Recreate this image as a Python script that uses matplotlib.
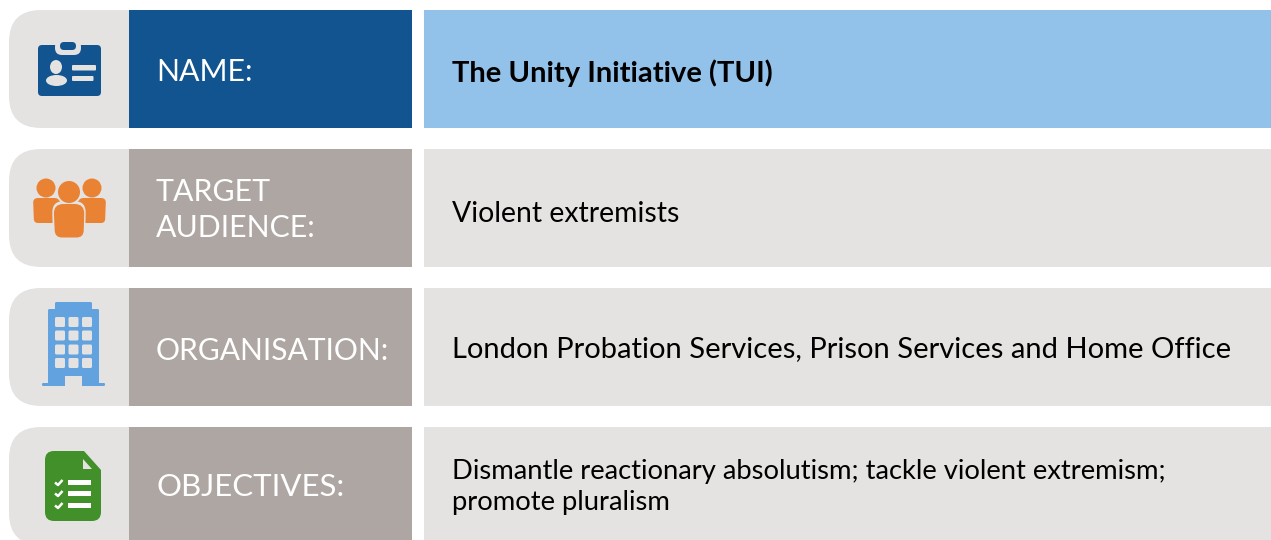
import matplotlib
matplotlib.use('Agg')
import matplotlib.pyplot as plt
from matplotlib.patches import Rectangle, Circle, Ellipse, FancyBboxPatch, PathPatch, Polygon
from matplotlib.path import Path

labels = ['NAME:', 'TARGET\nAUDIENCE:', 'ORGANISATION:', 'OBJECTIVES:']
values = ['The Unity Initiative (TUI)', 'Violent extremists',
          'London Probation Services, Prison Services and Home Office',
          'Dismantle reactionary absolutism; tackle violent extremism;\npromote pluralism']
row_tops = [10, 149, 288, 427]
label_y = [72, 210, 351, 487]
value_y = [73, 214, 349, 487]
label_size = [21.8, 21.8, 21.6, 22.4]
value_size = [21, 20.4, 21, 19.7]
label_colors = ['#125490', '#aea6a2', '#aea6a2', '#aea6a2']
value_colors = ['#92c1e9', '#e4e3e1', '#e4e3e1', '#e4e3e1']
PALE = '#e4e3e1'
ROW_H = 118

plt.rcParams['font.family'] = ['Lato', 'DejaVu Sans']

def rrect(ax, x0, y0, x1, y1, r, color, z=3):
    ax.add_patch(FancyBboxPatch((x0+r, y0+r), x1-x0-2*r, y1-y0-2*r,
                                boxstyle=f'round,pad={r},rounding_size={r}',
                                fc=color, ec='none', zorder=z))

def round_poly(ax, pts, color, z=3):
    # pts are (x, y, radius), corners get a quadratic curve
    verts, codes = [], []
    n = len(pts)
    for i in range(n):
        x, y, r = pts[i]
        px, py, _ = pts[i-1]
        nx, ny, _ = pts[(i+1) % n]
        d1 = ((px-x)**2 + (py-y)**2)**0.5
        d2 = ((nx-x)**2 + (ny-y)**2)**0.5
        a = (x + (px-x)*r/d1, y + (py-y)*r/d1)
        b = (x + (nx-x)*r/d2, y + (ny-y)*r/d2)
        verts += [a, (x, y), b]
        codes += [Path.MOVETO if i == 0 else Path.LINETO, Path.CURVE3, Path.CURVE3]
    verts.append(verts[0])
    codes.append(Path.CLOSEPOLY)
    ax.add_patch(PathPatch(Path(verts, codes), fc=color, ec='none', zorder=z))

def left_tab(ax, top):
    # pale box, only the left corners are round
    x0, x1, r = 9, 130, 32
    bot = top + ROW_H
    verts = [(x1, top), (x0+r, top), (x0, top), (x0, top+r), (x0, bot-r), (x0, bot), (x0+r, bot), (x1, bot), (x1, top)]
    codes = [Path.MOVETO, Path.LINETO, Path.CURVE3, Path.CURVE3, Path.LINETO, Path.CURVE3, Path.CURVE3, Path.LINETO, Path.CLOSEPOLY]
    ax.add_patch(PathPatch(Path(verts, codes), fc=PALE, ec='none', zorder=1))

def icon_badge(ax):
    c = '#125490'
    rrect(ax, 38, 45, 101, 96, 4, c)
    rrect(ax, 55, 40, 81, 55, 7, PALE, 4)
    rrect(ax, 60, 42, 76, 50, 4, c, 5)
    ax.add_patch(Ellipse((56, 67), 12, 14, fc=PALE, ec='none', zorder=5))
    ax.add_patch(Ellipse((56.5, 80.5), 21, 11, fc=PALE, ec='none', zorder=5))
    rrect(ax, 72, 65, 96, 70.5, 1, PALE, 5)
    rrect(ax, 72, 76, 93.5, 81, 1, PALE, 5)

def icon_people(ax):
    c = '#ea8233'
    for cx, x0, x1 in [(46, 33, 62), (92, 76, 106)]:
        ax.add_patch(Circle((cx, 188), 9.5, fc=c, ec='none', zorder=3))
        lr = 5 if x0 == 33 else 8
        rr = 8 if x0 == 33 else 5
        round_poly(ax, [(x0, 198, lr), (x1, 198, rr), (x1, 223, 1), (x0+1, 223, 4)] if x0 == 33
                   else [(x0, 198, lr), (x1, 198, rr), (x1-1, 223, 4), (x0, 223, 1)], c)
    # centre figure has a pale halo
    round_poly(ax, [(52, 201, 12), (86, 201, 12), (85, 240, 8), (53, 240, 8)], PALE, 4)
    ax.add_patch(Circle((69, 192), 13, fc=PALE, ec='none', zorder=4))
    round_poly(ax, [(53.5, 204, 10), (84.5, 204, 10), (83.5, 237.5, 7), (55, 237.5, 7)], c, 5)
    ax.add_patch(Circle((69, 192), 11, fc=c, ec='none', zorder=6))

def icon_building(ax):
    c = '#62a2de'
    rrect(ax, 55, 302, 92, 312, 1.5, c)
    rrect(ax, 48, 309, 99, 386, 1.5, c)
    ax.add_patch(Rectangle((65, 375.5), 17, 11.5, fc=PALE, ec='none', zorder=4))
    rrect(ax, 42, 383, 65, 386, 1.2, c, 5)
    rrect(ax, 82, 383, 105, 386, 1.2, c, 5)
    for wy in [317, 330.5, 344.5, 358]:
        for wx in [55, 68.5, 82]:
            rrect(ax, wx, wy, wx+10, wy+10, 1.5, PALE, 4)

def icon_doc(ax):
    c = '#41902a'
    round_poly(ax, [(45, 451, 9), (84, 451, 0.5), (101, 470, 0.5), (101, 521, 9), (45, 521, 9)], c)
    ax.add_patch(Polygon([(83, 459), (83, 469), (92, 469)], closed=True, fc=PALE, ec='none', zorder=4))
    for ly in [480, 491, 503]:
        ax.add_patch(Rectangle((68, ly), 23, 5, fc='white', ec='none', zorder=4))
        ax.plot([55, 58, 62.5], [ly+2.5, ly+5, ly], color='white', lw=1.8, zorder=4,
                solid_capstyle='butt')

fig = plt.figure(figsize=(12.71, 5.4), dpi=100)
ax = fig.add_axes([0, 0, 1, 1])
ax.set_xlim(0, 1271)
ax.set_ylim(540, 0)
ax.axis('off')

for i in range(4):
    top = row_tops[i]
    left_tab(ax, top)
    ax.add_patch(Rectangle((129, top), 283, ROW_H, fc=label_colors[i], ec='none', zorder=2))
    ax.add_patch(Rectangle((424, top), 847, ROW_H, fc=value_colors[i], ec='none', zorder=2))
    ax.text(156, label_y[i], labels[i], color='white', fontsize=label_size[i], va='center', ha='left',
            linespacing=1.36, zorder=5)
    ax.text(452, value_y[i], values[i], color='black', fontsize=value_size[i], va='center', ha='left',
            fontweight='bold' if i == 0 else 'normal', linespacing=1.27, zorder=5)

icon_badge(ax)
icon_people(ax)
icon_building(ax)
icon_doc(ax)

fig.savefig('out.png', dpi=100, facecolor='white')
